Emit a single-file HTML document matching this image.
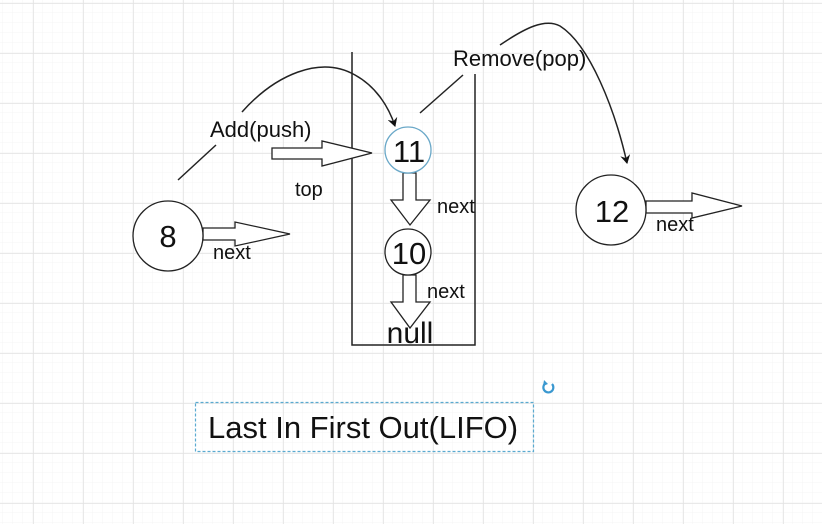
<!DOCTYPE html>
<html><head><style>
html,body{margin:0;padding:0;background:#fff;}
svg{display:block;font-family:"Liberation Sans",sans-serif;}
</style></head><body>
<svg width="822" height="524" viewBox="0 0 822 524" xmlns="http://www.w3.org/2000/svg">
<defs>
<pattern id="minor" x="3" y="3" width="10" height="10" patternUnits="userSpaceOnUse">
<path d="M10 0V10M0 10H10" stroke="#f4f4f4" stroke-width="1" fill="none"/>
</pattern>
<pattern id="major" x="33" y="3" width="50" height="50" patternUnits="userSpaceOnUse">
<path d="M0 0V50M0 0H50" stroke="#e2e2e2" stroke-width="1.5" fill="none"/>
</pattern>
<marker id="ah" markerWidth="10" markerHeight="10" refX="8" refY="5" orient="auto" markerUnits="userSpaceOnUse">
<path d="M0 0L9 5L0 10L3 5Z" fill="#111"/>
</marker>
</defs>
<rect width="822" height="524" fill="url(#minor)"/>
<rect width="822" height="524" fill="url(#major)"/>

<g stroke="#222" stroke-width="1.5" fill="none">
<path d="M352 52V345H475V74"/>
<path d="M178 180L216 145"/>
<path d="M242 112C275 75 320 55 355 75C375 86 388 105 395 126" marker-end="url(#ah)"/>
<path d="M420 113L463 75"/>
<path d="M500 45C525 28 545 18 560 26C590 45 615 110 627 163" marker-end="url(#ah)"/>
</g>

<g stroke="#222" stroke-width="1.3" fill="#fff">
<path d="M203 228H235V222L290 234L235 246V240H203Z"/>
<path d="M272 148H322V141L372 153L322 166V159H272Z"/>
<path d="M403 173H416V200H430L410 225L391 200H403Z"/>
<path d="M403 275H416V302H430L410 328L391 302H403Z"/>
<path d="M646 201H692V193L742 206L692 218V213H646Z"/>
<circle cx="168" cy="236" r="35"/>
<circle cx="408" cy="150" r="23" stroke="#6aa8c8"/>
<circle cx="408" cy="252" r="23"/>
<circle cx="611" cy="210" r="35"/>
</g>

<g fill="#111">
<text x="168" y="247" font-size="31" text-anchor="middle">8</text>
<text x="409" y="162" font-size="31" text-anchor="middle">11</text>
<text x="409" y="264" font-size="31" text-anchor="middle">10</text>
<text x="612" y="222" font-size="31" text-anchor="middle">12</text>
<text x="410" y="343" font-size="30" text-anchor="middle">null</text>
<text x="210" y="137" font-size="22">Add(push)</text>
<text x="453" y="66" font-size="22">Remove(pop)</text>
<text x="295" y="196" font-size="20">top</text>
<text x="213" y="259" font-size="20">next</text>
<text x="437" y="213" font-size="20">next</text>
<text x="427" y="298" font-size="20">next</text>
<text x="656" y="231" font-size="20">next</text>
<text x="208" y="438" font-size="31">Last In First Out(LIFO)</text>
</g>

<rect x="195.5" y="402.5" width="338" height="49" fill="none" stroke="#5aaad0" stroke-width="1.2" stroke-dasharray="3,2"/>
<path d="M552 384A5 5 0 1 1 546 383" stroke="#3a98d0" stroke-width="2.2" fill="none"/>
<path d="M544 380L548 384L543 386Z" fill="#3a98d0"/>
</svg>
</body></html>
